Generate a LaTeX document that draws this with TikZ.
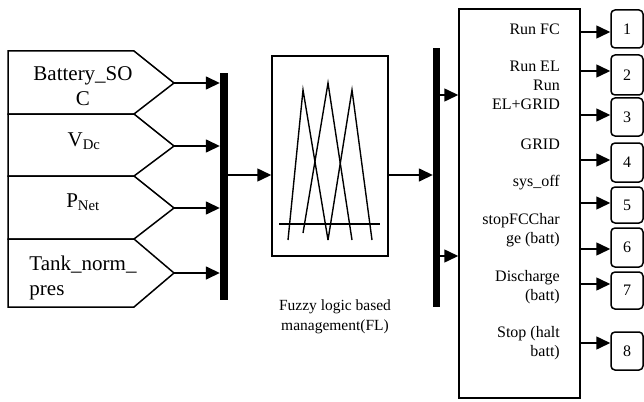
\documentclass[tikz,border=0pt]{standalone}
\usepackage{fontspec}
\setmainfont{Liberation Serif}
\usetikzlibrary{arrows.meta}
\begin{document}
\begin{tikzpicture}[x=1pt,y=-1pt,
  wire/.style={line width=1.5pt},
  sig/.style={line width=1.5pt,-{Triangle[length=14pt,width=13pt]}},
  blk/.style={draw,line width=1.5pt,inner sep=0pt},
  busbar/.style={fill=black,inner sep=0pt},
  port/.style={draw,line width=1.5pt,rounded corners=4pt,minimum width=32pt,inner sep=0pt,
    font=\fontsize{16}{19}\selectfont},
  lbl/.style={inner sep=0pt,font=\fontsize{16}{19}\selectfont,align=right,anchor=base east},
  inlbl/.style={inner sep=0pt,font=\fontsize{21}{25}\selectfont,anchor=base}
]
\useasboundingbox (0,0) rectangle (644,401);

% input ports (pentagon blocks) with their tip coordinates
\draw[wire] (8,51)  -- (134,51)  -- (174,83)  coordinate (t1) -- (134,114) -- (8,114) -- cycle;
\draw[wire] (8,114) -- (134,114) -- (174,146) coordinate (t2) -- (134,176) -- (8,176) -- cycle;
\draw[wire] (8,176) -- (134,176) -- (174,208) coordinate (t3) -- (134,239) -- (8,239) -- cycle;
\draw[wire] (8,239) -- (134,239) -- (174,273) coordinate (t4) -- (134,307) -- (8,307) -- cycle;

% (multi-line labels are placed by the baseline of their last line)
\node[inlbl,align=center] (in1) at (83,106) {Battery\_SO\\C};
\node[inlbl] (in2) at (84,146) {V\textsubscript{Dc}};
\node[inlbl] (in3) at (83,207) {P\textsubscript{Net}};
\node[inlbl,align=left] (in4) at (83,295) {Tank\_norm\_\\pres};

% mux bar
\node[busbar,minimum width=8pt,minimum height=227pt] (bus1) at (224,186.5) {};
\foreach \t in {t1,t2,t3,t4}
  \draw[sig] (\t) -- (\t -| bus1.west);

% fuzzy logic block
\node[blk,minimum width=116pt,minimum height=200pt] (fl) at (330,156) {};
\coordinate (m1) at (250,175);
\draw[sig] (bus1.east |- m1) -- (fl.west |- m1);

% membership-function icon
\begin{scope}[line width=1.4pt]
  \draw (279,224) -- (380,224);
  \draw (288,240) -- (303,90) -- (328,240);
  \draw (303,233) -- (328,83) -- (352,240);
  \draw (328,240) -- (352,90) -- (372,240);
\end{scope}

\node[font=\fontsize{15.5}{20}\selectfont,align=center,anchor=base,inner sep=0pt] (fllbl) at (335,330)
  {Fuzzy logic based\\management(FL)};

% demux bar
\node[busbar,minimum width=7pt,minimum height=259pt] (bus2) at (436.5,177.5) {};
\draw[sig] (fl.east |- m1) -- (bus2.west |- m1);

% supervisory subsystem
\node[blk,minimum width=121pt,minimum height=389pt] (ctrl) at (519.5,203.5) {};
\coordinate (a1) at (450,95);
\coordinate (a2) at (450,256);
\draw[sig] (bus2.east |- a1) -- (ctrl.west |- a1);
\draw[sig] (bus2.east |- a2) -- (ctrl.west |- a2);

\node[lbl] (l1) at (560,35)  {Run FC};
\node[lbl] (l2) at (560,110) {Run EL\\Run\\EL+GRID};
\node[lbl] (l3) at (560,149) {GRID};
\node[lbl] (l4) at (560,186) {sys\_off};
\node[lbl] (l5) at (560,243) {stopFCChar\\ge (batt)};
\node[lbl] (l6) at (560,300) {Discharge\\(batt)};
\node[lbl] (l7) at (560,356) {Stop (halt\\batt)};

% output ports
\node[port,minimum height=38pt] (p1) at (627,29)    {1};
\node[port,minimum height=40pt] (p2) at (627,75)    {2};
\node[port,minimum height=38pt] (p3) at (627,117)   {3};
\node[port,minimum height=39pt] (p4) at (627,162.5) {4};
\node[port,minimum height=36pt] (p5) at (627,205)   {5};
\node[port,minimum height=39pt] (p6) at (627,247.5) {6};
\node[port,minimum height=37pt] (p7) at (627,290.5) {7};
\node[port,minimum height=38pt] (p8) at (627,351)   {8};

\foreach \i/\y in {1/32,2/71,3/115,4/160,5/203,6/249,7/284,8/343} {
  \coordinate (o\i) at (600,\y);
  \draw[sig] (ctrl.east |- o\i) -- (p\i.west |- o\i);
}
\end{tikzpicture}
\end{document}
